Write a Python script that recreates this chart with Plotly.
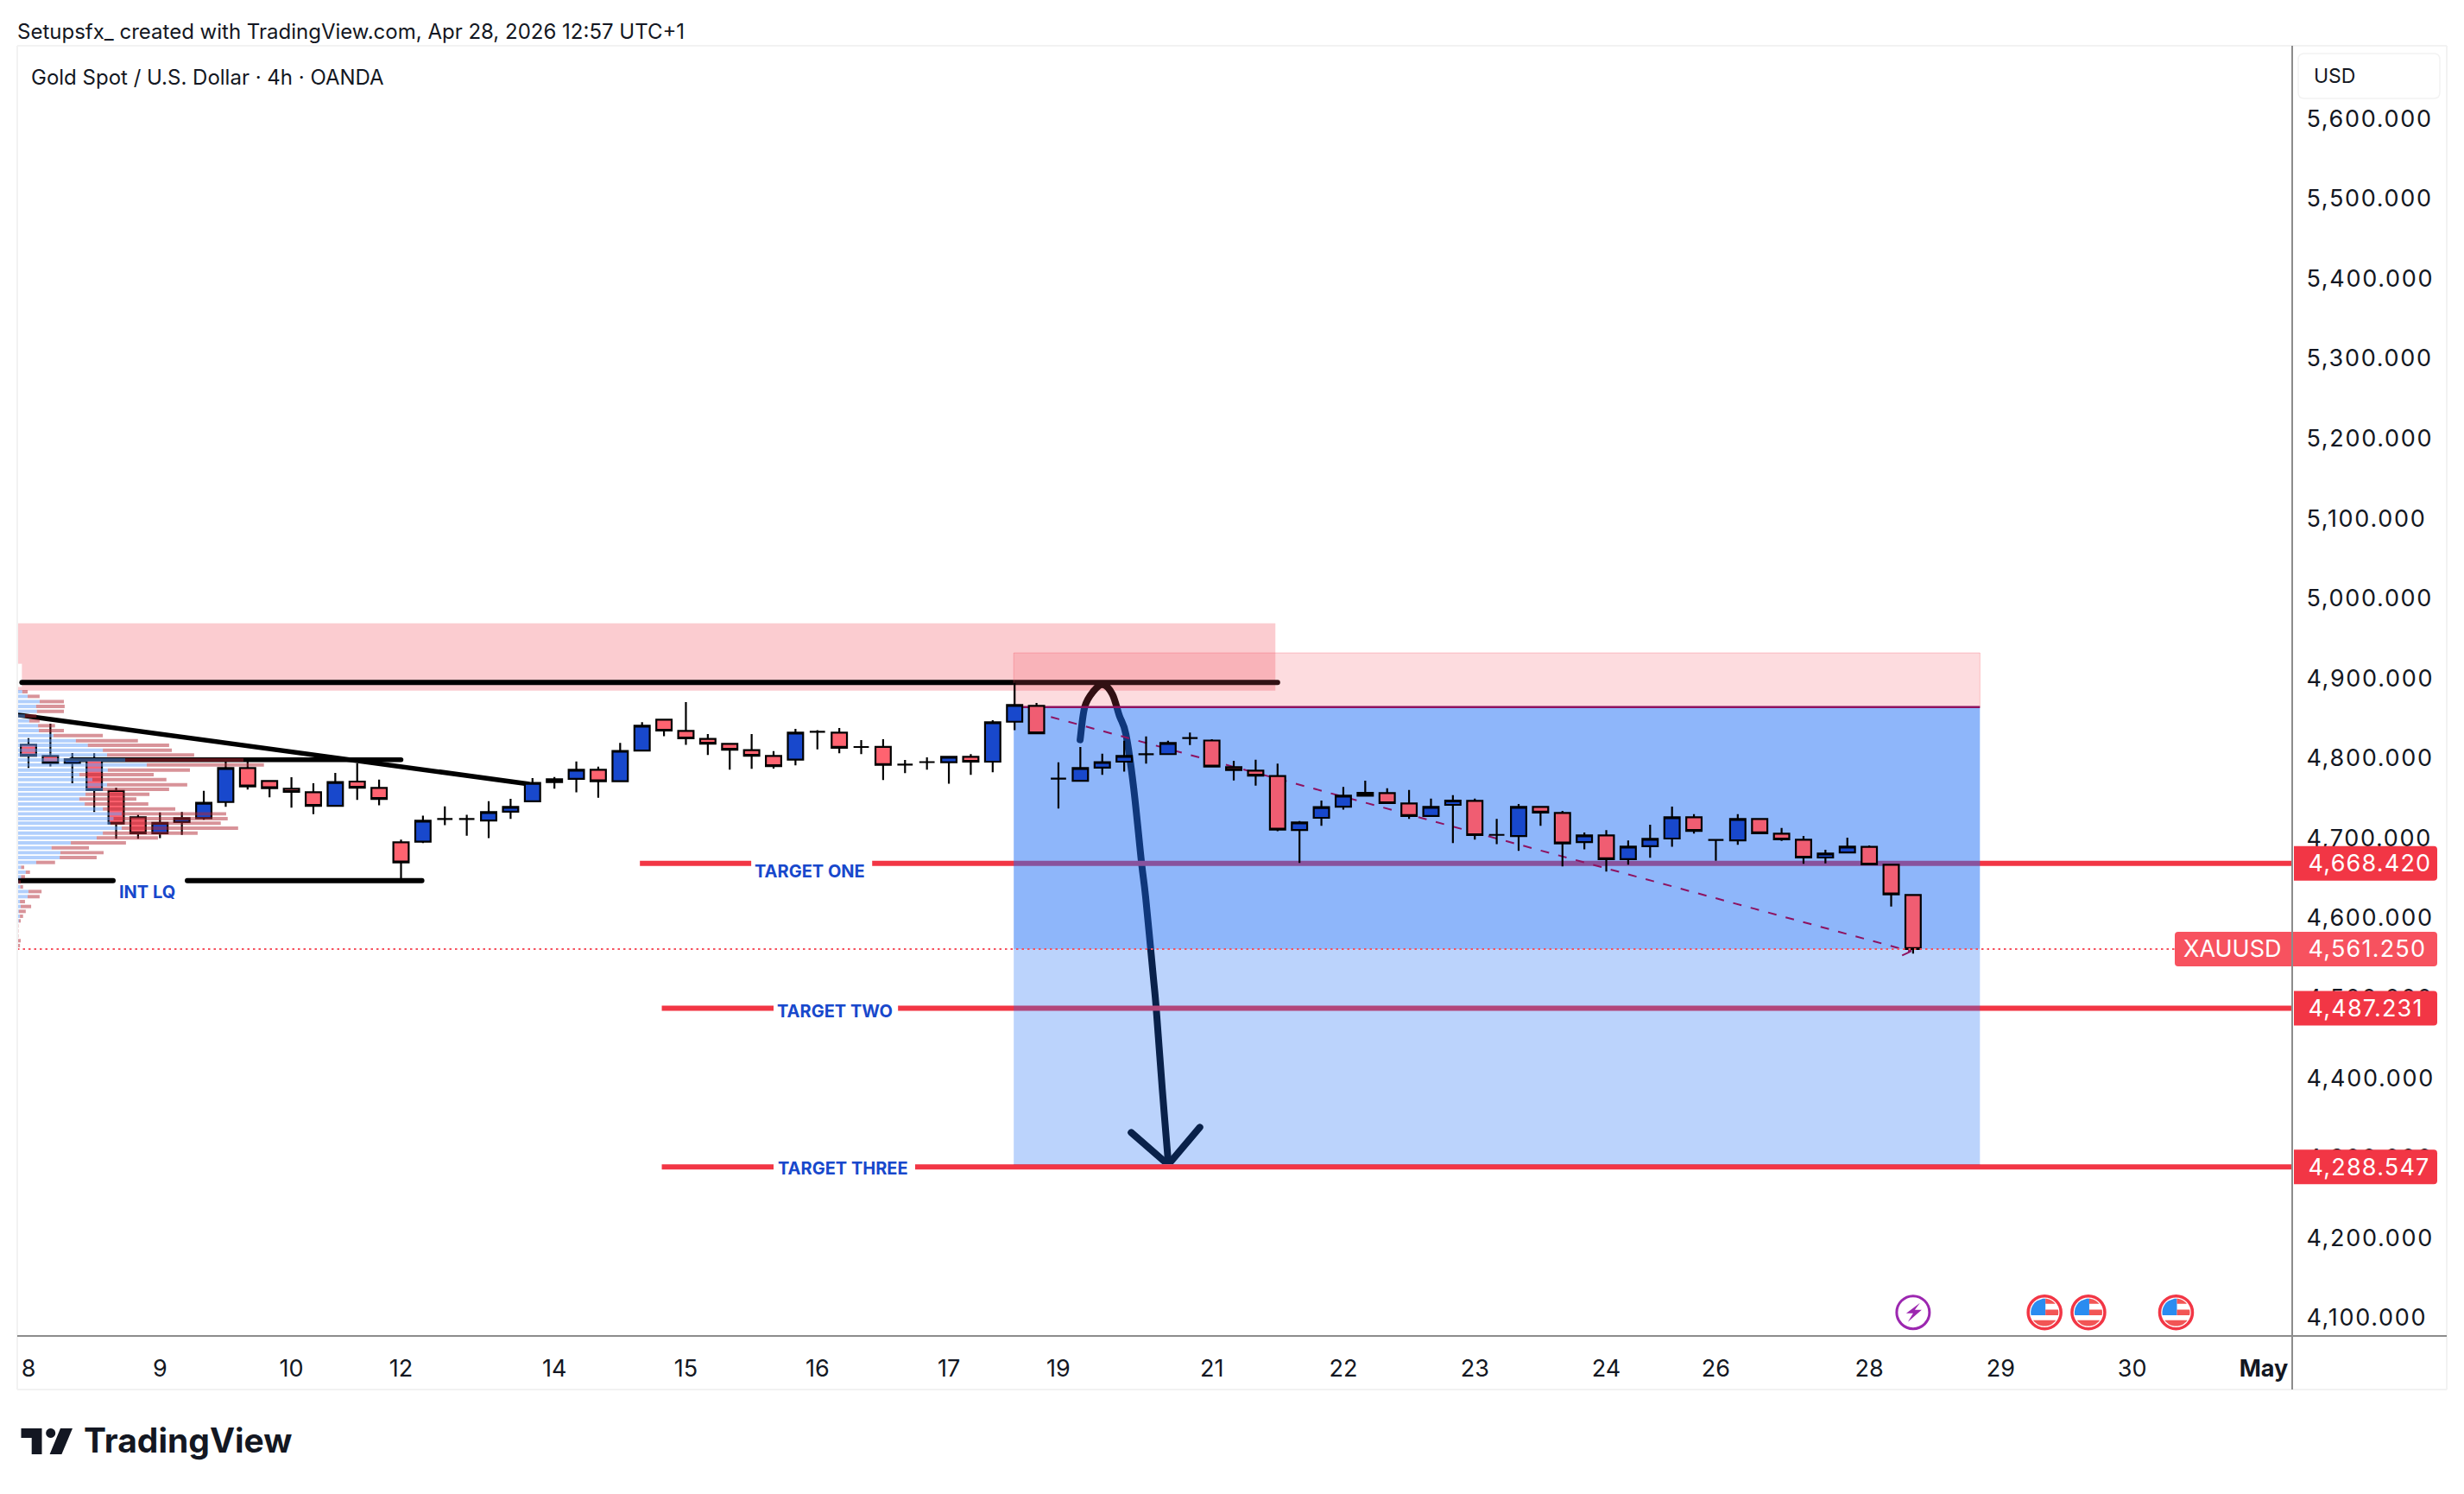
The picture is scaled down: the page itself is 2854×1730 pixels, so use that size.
import math
import plotly.graph_objects as go

# ---------- data ----------
opens = [4816.7,4802.7,4793.7,4797.3,4759,4726,4706,4720,4725,4745,4787.6,4771.4,4761.7,4757.3,4740.4,4770.7,4762.7,4694.7,4695.4,4723.9,4723.9,4722,4733,4746,4770,4774,4785.4,
         4771,4809.5,4848,4834,4824,4817.8,4810,4802.7,4798,4833,4831.9,4813.9,4814,4791.9,4795,4794.8,4801.6,4795.5,4845.5,4865.3,4774.3,4771.7,4788,4795.5,4804.9,
         4805,4825,4822,4788.7,4784.4,4777.5,4710,4725.3,4739.3,4753,4756.3,4743.3,4727.5,4741.5,4746.5,4704,4702.6,4739,4731.4,4695,
         4703.3,4673.5,4689.7,4699.4,4726,4697.6,4697.2,4723.9,4705.5,4698,4675.6,4682,4689,4666.6,4628.8]
highs = [4825,4843,4806.3,4806,4763,4729,4732,4732.5,4759,4796,4796,4772,4776,4768.5,4781.5,4793.7,4773,4698,4728,4739.7,4729,4746,4749,4775,4776.4,4795.9,4789.4,
         4819,4845,4849,4870,4830,4818,4830,4808.8,4836.5,4835,4837.6,4822.5,4823.6,4797.7,4800.9,4802.7,4805,4847.3,4894,4869,4794.8,4814,4805.6,4821.8,4827,
         4821.8,4832,4823.6,4796.6,4798,4793,4721.3,4746.9,4764,4771.7,4762.4,4760.2,4749.4,4753.7,4749.4,4724,4742.6,4740,4734,4707,
         4710,4697,4716.7,4739.3,4730,4697.6,4730,4723.9,4712.7,4702.6,4685.4,4700.5,4690.7,4666.6,4628.8]
lows = [4787.6,4789.7,4768.5,4732.5,4699,4699,4700,4704,4722.8,4739,4760.6,4751,4738,4730,4740.4,4747.6,4741,4649.7,4693.6,4716,4703,4700,4723.9,4745.8,4761.7,4757.3,4750.5,
        4771,4809,4827.5,4816.7,4803.8,4785.4,4786.5,4787,4790.8,4811,4806,4804.9,4772.5,4781.1,4785.4,4768,4779,4782.2,4835,4831,4736.8,4771.7,4779,4783,4793,
        4803.8,4816.4,4789,4772,4765.6,4708.7,4668.8,4715.2,4735.7,4752,4743.3,4723.9,4727,4693.6,4698,4692.5,4683.9,4715.2,4664.5,4686,
        4658,4666.6,4675.3,4689,4705.5,4671.7,4691.5,4705.9,4696.5,4667.7,4668.4,4682,4666.6,4614.4,4555.4]
closes = [4803,4793.7,4798.7,4760,4718,4706,4719,4725,4744,4787.6,4764.5,4762.4,4757.7,4740.4,4770,4763,4749,4669.5,4721.7,4723.9,4723.9,4732.5,4739,4769,4773.5,4785.4,4771,
          4809,4840.5,4834.4,4824.7,4818,4810.6,4803,4790,4831.9,4833,4813,4813.9,4791.5,4791.9,4795,4801.6,4795.5,4844.8,4866.4,4831,4774.3,4787.6,4795,4802.7,4804.9,
          4818.9,4825,4789.4,4785,4778,4710.5,4719.5,4738.6,4753,4756.6,4743.7,4727.5,4739,4746.9,4703.7,4704,4739,4732,4693.3,4703.3,
          4673.5,4689.3,4699,4726,4709,4697.6,4723.9,4705.9,4698.3,4675.6,4680.7,4689.3,4667,4629.5,4561.25]

tick_bars = [0,6,12,17,24,30,36,42,47,54,60,66,72,77,84,90,96,102]
tick_names = ["8","9","10","12","14","15","16","17","19","21","22","23","24","26","28","29","30","<b>May</b>"]
price_ticks = [4100,4200,4300,4400,4500,4600,4700,4800,4900,5000,5100,5200,5300,5400,5500,5600]

profile_price = [4883.0,4877.2,4870.7,4864.6,4858.5,4852.7,4846.6,4840.5,4834.4,4828.3,4821.8,4816.0,4809.9,4803.8,4797.7,4791.5,4785.1,4779.3,4773.2,4766.7,4761.0,4754.8,4748.7,4742.6,4736.5,4730.3,4724.2,4718.5,4712.3,4706.2,4700.1,4694.0,4687.9,4681.7,4675.6,4669.5,4663.4,4657.3,4651.5,4645.0,4638.9,4633.1,4626.7,4620.5,4614.4,4608.3,4602.2,4596.4,4590.0,4583.8,4577.7,4571.6,4565.5]
profile_up = [13,27,58,49,51,20,31,54,56,94,152,183,222,233,280,336,235,161,195,233,222,177,161,175,222,271,250,242,271,222,206,139,89,112,110,49,10,22,10,3,8,29,27,7,9,4,7,4,0,0,0,0,0]
profile_down = [14,31,63,74,70,30,27,44,65,128,161,211,179,226,307,304,213,193,192,208,172,166,148,165,188,271,296,286,302,246,159,143,97,112,96,49,8,11,10,6,7,34,31,13,27,18,8,5,3,3,3,9,7]

target_levels = [4668.42, 4487.231, 4288.547]
target_names = ["TARGET ONE", "TARGET TWO", "TARGET THREE"]
target_starts = [27.9, 28.9, 28.9]
target_gap_a = [32.98, 34.0, 34.0]
target_gap_b = [38.5, 39.68, 40.46]
last_price = 4561.25

arrow_x = [47.99,48.2,48.6,49.03,49.46,49.78,50.08,50.43,50.79,50.98,51.32,51.46,51.74,52.01]
arrow_y = [4822.9,4864,4883.7,4892,4880,4853,4829.7,4763.5,4669.5,4626,4529,4487.6,4385.4,4294.7]
head_x = [50.32,52.01,53.45]
head_y = [4331.7,4291.4,4338.2]

flag_bars = [92,94,98]
bolt_bars = [86]
event_level = 4106.7

# ---------- frame in page pixels ----------
W, H = 2854, 1730
L, R, T, B = 20, 2655, 53, 1547
def px(x): return (x - L) / (R - L)
def py(y): return (B - y) / (B - T)
X0, X1 = -0.512, 103.3
Y0, Y1 = 4077.2, 5691.0
RED = "#FF6370"; RED2 = "#F05D72"; BLUE = "#1848CC"; TAG = "#F23645"; TAG2 = "#F7525F"
FONT = "Inter"

fig = go.Figure()
n = len(opens)
split = 45
bars = list(range(n))
for a, b, dn in [(0, split, RED), (split, n, RED2)]:
    fig.add_trace(go.Candlestick(
        x=bars[a:b], open=opens[a:b], high=highs[a:b], low=lows[a:b], close=closes[a:b],
        increasing=dict(fillcolor=BLUE, line=dict(color="#000000", width=2.2)),
        decreasing=dict(fillcolor=dn, line=dict(color="#000000", width=2.2)),
        whiskerwidth=0, showlegend=False, hoverinfo="skip"))

fig.add_trace(go.Bar(y=profile_price, x=profile_up, orientation="h", xaxis="x2", yaxis="y", width=4.3,
                     marker=dict(color="rgba(100,160,250,0.5)", line_width=0), showlegend=False, hoverinfo="skip"))
fig.add_trace(go.Bar(y=profile_price, x=profile_down, orientation="h", xaxis="x2", yaxis="y", width=4.3,
                     base=profile_up, marker=dict(color="rgba(178,40,51,0.5)", line_width=0), showlegend=False, hoverinfo="skip"))

# event markers
fig.add_trace(go.Scatter(x=flag_bars, y=[event_level]*3, mode="markers", showlegend=False, hoverinfo="skip",
                         marker=dict(size=38, color="white", line=dict(color=TAG, width=3.5))))
fig.add_trace(go.Scatter(x=bolt_bars, y=[event_level], mode="markers", showlegend=False, hoverinfo="skip",
                         marker=dict(size=38, color="white", line=dict(color="#9C27B0", width=3))))

shapes = []
def rect(x0, x1, y0, y1, color, line=None, width=0, layer="below"):
    shapes.append(dict(type="rect", xref="x", yref="y", x0=x0, x1=x1, y0=y0, y1=y1, fillcolor=color,
                       line=dict(width=width, color=line or color), layer=layer))
def seg(x0, y0, x1, y1, color, width, dash="solid", layer="below"):
    shapes.append(dict(type="line", xref="x", yref="y", x0=x0, x1=x1, y0=y0, y1=y1,
                       line=dict(color=color, width=width, dash=dash), layer=layer))
def poly(xs, ys, color, width):
    d = "M " + " L ".join(f"{a},{b}" for a, b in zip(xs, ys))
    shapes.append(dict(type="path", xref="x", yref="y", path=d, line=dict(color=color, width=width), layer="below"))
def curve(xs, ys, color, width):
    # Catmull-Rom through the read points, as cubic segments
    pts = list(zip(xs, ys))
    d = f"M {pts[0][0]},{pts[0][1]}"
    for i in range(len(pts) - 1):
        p0 = pts[max(i - 1, 0)]; p1 = pts[i]; p2 = pts[i + 1]; p3 = pts[min(i + 2, len(pts) - 1)]
        c1 = (p1[0] + (p2[0] - p0[0]) / 6, p1[1] + (p2[1] - p0[1]) / 6)
        c2 = (p2[0] - (p3[0] - p1[0]) / 6, p2[1] - (p3[1] - p1[1]) / 6)
        d += f" C {c1[0]:.3f},{c1[1]:.2f} {c2[0]:.3f},{c2[1]:.2f} {p2[0]},{p2[1]}"
    shapes.append(dict(type="path", xref="x", yref="y", path=d, line=dict(color=color, width=width), layer="below"))

rect(X0, 56.9, 4884.4, 4968.7, "#FBCCD0")
rect(X0, -0.3, 4889, 4918, "#FFFFFF")
curve(arrow_x, arrow_y, "#000000", 8)
poly(head_x, head_y, "#000000", 8)
seg(-0.3, 4894.5, 57.0, 4894.5, "#000000", 6)
seg(X0, 4854.2, 22.8, 4767.8, "#000000", 5.5)
seg(1.95, 4798, 17.0, 4798, "#000000", 5.5)
seg(X0, 4646.8, 3.86, 4646.8, "#000000", 6)
seg(7.25, 4646.8, 17.95, 4646.8, "#000000", 6)
for lv, s, ga, gb in zip(target_levels[:2], target_starts, target_gap_a, target_gap_b):
    seg(s, lv, ga, lv, TAG, 6)
    seg(gb, lv, X1, lv, TAG, 6)
rect(44.96, 89.05, 4863.9, 4931.6, "rgba(247,82,95,0.2)", "rgba(247,82,95,0.3)", 1)
rect(44.96, 89.05, last_price, 4863.9, "rgba(30,110,245,0.5)")
rect(44.96, 89.05, 4291.4, last_price, "rgba(30,110,245,0.3)")
seg(44.96, 4863.9, 89.05, 4863.9, "#8E1260", 2.5)
seg(44.96, 4291.4, 89.05, 4291.4, "#8AA9E8", 1.5)
seg(target_starts[2], target_levels[2], target_gap_a[2], target_levels[2], TAG, 6)
seg(target_gap_b[2], target_levels[2], X1, target_levels[2], TAG, 6)
seg(45.86, 4857.4, 85.9, 4558.2, "#8E1260", 2, dash="10px,11px")
seg(85.5, 4553.2, 85.9, 4558.2, "#8E1260", 2)
seg(85.8, 4571.5, 85.9, 4558.2, "#8E1260", 2)
seg(X0, last_price, 97.95, last_price, TAG2, 2, dash="2.5px,4px", layer="above")

# pixel-sized shapes
def rounded(x0, x1, y0, y1, r, rl=True, rr=True):
    rl_ = r if rl else 0; rr_ = r if rr else 0
    return (f"M {x0+rl_},{y1} L {x1-rr_},{y1} Q {x1},{y1} {x1},{y1-rr_} L {x1},{y0+rr_} Q {x1},{y0} {x1-rr_},{y0} "
            f"L {x0+rl_},{y0} Q {x0},{y0} {x0},{y0+rl_} L {x0},{y1-rl_} Q {x0},{y1} {x0+rl_},{y1} Z")
def tag(level, x0, x1, color, rl, rr):
    shapes.append(dict(type="path", xref="paper", xsizemode="pixel", xanchor=1, yref="y", ysizemode="pixel", yanchor=level,
                       path=rounded(x0, x1, -20, 20, 4, rl, rr), fillcolor=color, line=dict(width=0), layer="above"))
for lv in target_levels:
    tag(lv, 2, 168, TAG, False, True)
tag(last_price, -136, 0, TAG2, True, False)
tag(last_price, 0, 168, TAG2, False, True)

def band(r, y0, y1, xmin=-99, xmax=99, steps=8):
    ys = [y0 + (y1 - y0) * k / steps for k in range(steps + 1)]
    rightp = [(min(xmax, math.sqrt(max(r*r - v*v, 0))), v) for v in ys]
    leftp = [(max(xmin, -math.sqrt(max(r*r - v*v, 0))), v) for v in reversed(ys)]
    pts = rightp + leftp
    return "M " + " L ".join(f"{a:.1f},{b:.1f}" for a, b in pts) + " Z"
def icon(bar, d, color):
    shapes.append(dict(type="path", xref="x", xsizemode="pixel", xanchor=bar, yref="y", ysizemode="pixel", yanchor=event_level,
                       path=d, fillcolor=color, line=dict(width=0), layer="above"))
for b_ in flag_bars:
    icon(b_, band(16, -3.3, 15.9, -16, 1), "#2A8CF0")
    icon(b_, band(16, 10, 15.9, 1, 16), "#F25555")
    icon(b_, band(16, -3.3, 3.3, 1, 16), "#F25555")
    icon(b_, band(16, -15.9, -9), "#F25555")
for b_ in bolt_bars:
    icon(b_, "M 8,11 L -8,-1 L 0,-1 L -6,-11 L 10,3 L 2,3 Z", "#9C27B0")

# TradingView logo
def logo(d, color="#131722"):
    shapes.append(dict(type="path", xref="paper", xsizemode="pixel", xanchor=0, yref="paper", ysizemode="pixel", yanchor=0,
                       path=d, fillcolor=color, line=dict(width=0), layer="above"))
ly = lambda y: B - y
lx = lambda x: x - L
logo(f"M {lx(24.5)},{ly(1654)} L {lx(48.5)},{ly(1654)} L {lx(48.5)},{ly(1684)} L {lx(36.7)},{ly(1684)} L {lx(36.7)},{ly(1665)} L {lx(24.5)},{ly(1665)} Z")
logo(f"M {lx(70)},{ly(1654)} L {lx(84)},{ly(1654)} L {lx(71.4)},{ly(1684)} L {lx(57.6)},{ly(1684)} Z")
cx, cy, cr = 58.7, 1659.5, 5.5
logo("M " + " L ".join(f"{lx(cx+cr*math.cos(k*math.pi/10)):.1f},{ly(cy+cr*math.sin(k*math.pi/10)):.1f}" for k in range(20)) + " Z")

# frame and axis lines
def pline(x0, y0, x1, y1, color, width):
    shapes.append(dict(type="line", xref="paper", yref="paper", x0=px(x0), x1=px(x1), y0=py(y0), y1=py(y1),
                       line=dict(color=color, width=width), layer="above"))
FR = "#F2F2F2"
pline(20, 53, 2834, 53, FR, 2)
pline(20, 1609, 2834, 1609, FR, 2)
pline(20, 53, 20, 1609, FR, 2)
pline(2834, 53, 2834, 1609, FR, 2)
pline(2655, 53, 2655, 1609, "#8C8C8C", 2)
pline(20, 1547, 2834, 1547, "#8C8C8C", 2.2)
shapes.append(dict(type="path", xref="paper", xsizemode="pixel", xanchor=1, yref="paper", ysizemode="pixel", yanchor=1,
                   path=rounded(7, 171, B - 114 - (B - T), B - 62 - (B - T), 7), line=dict(color="#F2F2F2", width=1.5), layer="above"))

# text
ann = []
def text(x, y, s, size, color="#131722", anchor="left", family=FONT):
    ann.append(dict(xref="paper", yref="paper", x=px(x), y=py(y), text=s, showarrow=False, xanchor=anchor, yanchor="middle",
                    font=dict(family=family, size=size, color=color)))
text(18, 36, "Setupsfx_ created with TradingView.com, Apr 28, 2026 12:57 UTC+1", 24)
text(34, 90, "Gold Spot / U.S. Dollar · 4h · OANDA", 24)
text(2678, 88, "USD", 23)
text(95, 1668, "<b>TradingView</b>", 39)
text(170, 1033, "<b>INT LQ</b>", 20, BLUE, "center")
text(938, 1009, f"<b>{target_names[0]}</b>", 20, BLUE, "center")
text(967, 1170.7, f"<b>{target_names[1]}</b>", 20, BLUE, "center")
text(977, 1352.7, f"<b>{target_names[2]}</b>", 20, BLUE, "center")
for lv in target_levels + [last_price]:
    ann.append(dict(xref="paper", yref="y", x=px(2677), y=lv, text=f"{lv:,.3f}", showarrow=False, xanchor="left", yanchor="middle",
                    font=dict(family=FONT, size=27, color="white")))
ann.append(dict(xref="paper", yref="y", x=px(2586), y=last_price, text="XAUUSD", showarrow=False, xanchor="center", yanchor="middle",
                font=dict(family=FONT, size=27, color="white")))

fig.update_layout(
    width=W, height=H, autosize=False, margin=dict(l=L, r=W - R, t=T, b=H - B, pad=0),
    paper_bgcolor="white", plot_bgcolor="white", showlegend=False, barmode="overlay", boxgap=0.3, boxgroupgap=0,
    font=dict(family=FONT, size=27, color="#131722"),
    xaxis=dict(range=[X0, X1], tickmode="array", tickvals=tick_bars, ticktext=tick_names, rangeslider=dict(visible=False),
               showgrid=False, zeroline=False, showline=False, ticks="outside", ticklen=14, tickcolor="rgba(0,0,0,0)",
               tickfont=dict(family=FONT, size=27, color="#131722"), fixedrange=True),
    xaxis2=dict(overlaying="x", anchor="y", range=[0, 5902.4], visible=False, fixedrange=True),
    yaxis=dict(range=[Y0, Y1], side="right", tickmode="array", tickvals=price_ticks, ticktext=[f"{v:,.3f}" for v in price_ticks],
               showgrid=False, zeroline=False, showline=False, ticks="outside", ticklen=10, tickcolor="rgba(0,0,0,0)",
               tickfont=dict(family=FONT, size=27, color="#131722"), fixedrange=True),
    shapes=shapes, annotations=ann)

post = """
document.body.style.margin='0';document.documentElement.style.overflow='hidden';
document.querySelectorAll('g.ytick text').forEach(function(t){t.style.letterSpacing='1.7px';});
document.querySelectorAll('.annotation-text').forEach(function(t){
  if(/^[0-9],[0-9]{3}[.][0-9]{3}$/.test(t.textContent)){t.style.letterSpacing='1.2px';}
});
document.querySelectorAll('.shapelayer path').forEach(function(p){
  var s=p.style.stroke.replace(/ /g,'');
  if(s==='rgb(0,0,0)'){p.style.strokeLinecap='round';p.style.strokeLinejoin='round';}
});
"""
fig.write_html("out.html", config=dict(displayModeBar=False), post_script=post)
